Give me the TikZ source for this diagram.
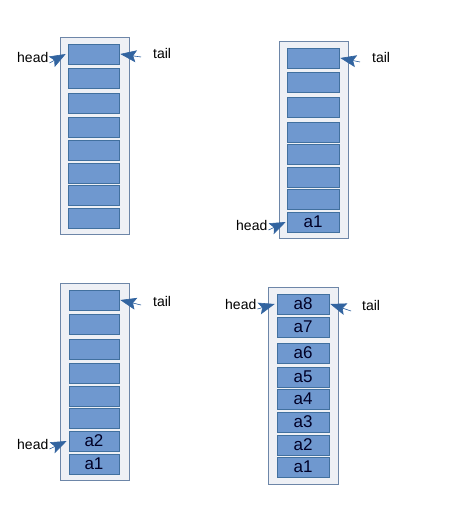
\documentclass[tikz,border=0pt]{standalone}
\usepackage{fontspec}
\setmainfont{Liberation Sans}
\usetikzlibrary{arrows.meta}

\definecolor{cellblue}{HTML}{6F98CF}
\definecolor{celledge}{HTML}{41709F}
\definecolor{framegray}{HTML}{EEF0F5}
\definecolor{frameedge}{HTML}{6D86A8}
\definecolor{ptrblue}{HTML}{3264A0}

\tikzset{
  frame/.style={draw=frameedge, fill=framegray, line width=0.8pt},
  cell/.style={draw=celledge, fill=cellblue, line width=0.6pt, inner sep=0pt,
    minimum height=20pt, text=black!85!blue, font=\fontsize{17}{17}\selectfont},
  lbl/.style={font=\fontsize{14}{14}\selectfont, inner sep=0pt},
  ptr/.style={-{Stealth[length=16pt,width=12pt,inset=3pt]}, draw=ptrblue, fill=ptrblue, line width=0.6pt}
}

\begin{document}
\begin{tikzpicture}[x=1pt, y=-1pt]
  \useasboundingbox (0,0) rectangle (454,518);
  % first queue: empty
  \draw[frame] (60,37) rectangle (129,234);
  \foreach \y [count=\i] in {54,78,103,127,150,173,195,218}
    \node[cell, minimum width=51pt] (p1c\i) at (93.5,\y) {};
  \node[lbl, anchor=west] (hd1) at (17,57) {head};
  \node[lbl, anchor=west] (tl1) at (153,54) {tail};
  \draw[ptr] ([xshift=1pt,yshift=-6pt]hd1.east) -- ([xshift=-2pt]p1c1.west);
  \draw[ptr] ([xshift=-12pt,yshift=-3pt]tl1.west) -- ([xshift=1pt]p1c1.east);

  % second queue: one item
  \draw[frame] (279,41) rectangle (348,238);
  \foreach \y/\t [count=\i] in {58/{},82/{},107/{},132/{},154/{},177/{},199/{},222/a1}
    \node[cell, minimum width=52pt] (p2c\i) at (313,\y) {\t};
  \node[lbl, anchor=west] (hd2) at (236,225) {head};
  \node[lbl, anchor=west] (tl2) at (372,58) {tail};
  \draw[ptr] ([xshift=1pt,yshift=-5pt]hd2.east) -- ([xshift=-1pt]p2c8.west);
  \draw[ptr] ([xshift=-12pt,yshift=-4pt]tl2.west) -- ([xshift=1pt]p2c1.east);

  % third queue: two items
  \draw[frame] (60,283) rectangle (129,480);
  \foreach \y/\t [count=\i] in {300/{},324/{},349/{},373/{},396/{},418/{},441/a2,464/a1}
    \node[cell, minimum width=50pt] (p3c\i) at (94,\y) {\t};
  \node[lbl, anchor=west] (hd3) at (17,444) {head};
  \node[lbl, anchor=west] (tl3) at (153,301) {tail};
  \draw[ptr] ([xshift=1pt,yshift=-5pt]hd3.east) -- ([xshift=-2pt]p3c7.west);
  \draw[ptr] ([xshift=-12pt,yshift=-4pt]tl3.west) -- ([xshift=1pt]p3c1.east);

  % fourth queue: full
  \draw[frame] (268,287) rectangle (338,484);
  \foreach \y/\t [count=\i] in {304/a8,327/a7,353/a6,377/a5,399/a4,422/a3,445/a2,467/a1}
    \node[cell, minimum width=52pt] (p4c\i) at (303,\y) {\t};
  \node[lbl, anchor=west] (hd4) at (225,304) {head};
  \node[lbl, anchor=west] (tl4) at (362,305) {tail};
  \draw[ptr] ([xshift=1pt,yshift=-5pt]hd4.east) -- ([xshift=-2pt]p4c1.west);
  \draw[ptr] ([xshift=-11pt,yshift=-6pt]tl4.west) -- ([xshift=1pt]p4c1.east);
\end{tikzpicture}
\end{document}
